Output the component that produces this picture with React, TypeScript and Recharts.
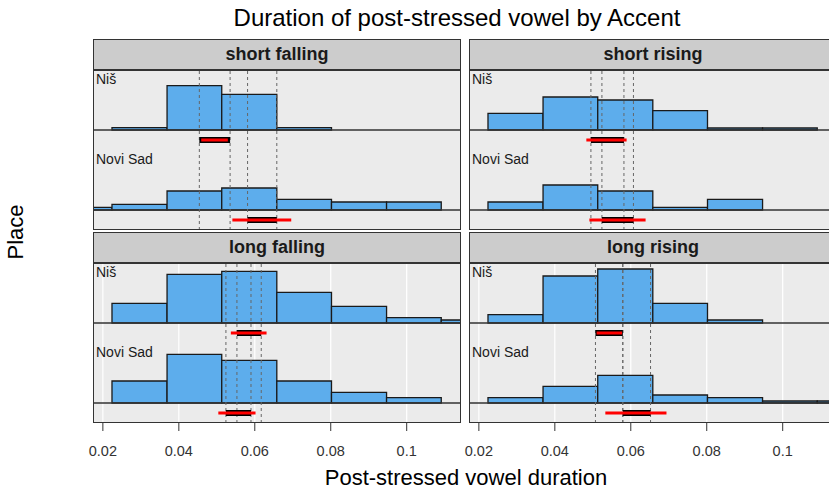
import { ComposedChart, XAxis, YAxis, CartesianGrid, ReferenceArea, ReferenceLine, Scatter } from 'recharts';

// histogram bins (post-stressed vowel duration, s)
const binEdges = [0.008, 0.0224, 0.0369, 0.0513, 0.0658, 0.0802, 0.0947, 0.1091, 0.1236];
const xTicks = [0.02, 0.04, 0.06, 0.08, 0.1];
const accents = ['short falling', 'short rising', 'long falling', 'long rising'];

// bar heights per bin, Niš / Novi Sad
const shortFallingNis = [0, 2.3, 44.3, 35.7, 2.3, 0, 0, 0];
const shortFallingNoviSad = [2.7, 5.7, 19, 22, 10.7, 8, 8, 0];
const shortRisingNis = [0, 16.7, 33, 30, 19.3, 2, 2, 0];
const shortRisingNoviSad = [0, 8, 25, 19, 2.7, 10.7, 0, 0];
const longFallingNis = [0, 19.7, 48.7, 51.7, 30.7, 16.7, 5.3, 3];
const longFallingNoviSad = [0, 22, 48.7, 42.7, 22, 10.7, 5.3, 0];
const longRisingNis = [0, 8.3, 47, 54, 19.7, 3, 0, 0];
const longRisingNoviSad = [0, 5.3, 16.7, 27.7, 8, 5.3, 2, 2];

// intervals, in accent order: inner (black) and outer (red)
const innerNis = [[0.0454, 0.0535], [0.0495, 0.0582], [0.0553, 0.0617], [0.0507, 0.0579]];
const outerNis = [[0.0459, 0.0529], [0.0483, 0.0589], [0.0537, 0.0631], [0.051, 0.0577]];
const innerNoviSad = [[0.0581, 0.0658], [0.0524, 0.0607], [0.0524, 0.059], [0.0579, 0.0652]];
const outerNoviSad = [[0.0541, 0.0696], [0.0491, 0.0639], [0.0504, 0.0602], [0.0533, 0.0694]];

const nisCounts = [shortFallingNis, shortRisingNis, longFallingNis, longRisingNis];
const noviSadCounts = [shortFallingNoviSad, shortRisingNoviSad, longFallingNoviSad, longRisingNoviSad];

const FONT = '"Liberation Sans", Arial, sans-serif';
const X_DOMAIN = [0.0174, 0.1143];
const PANEL_W = 368;
const PANEL_H = 160;
const PAD = 20;
const NIS_BASE = 100;
const NS_BASE = 20;
const NIS_CI = 90;
const NS_CI = 10;

type PanelProps = {
  idx: number;
  left: number;
  top: number;
  axis: boolean;
};

function Panel({ idx, left, top, axis }: PanelProps) {
  const rows = [
    { base: NIS_BASE, counts: nisCounts[idx], ci: NIS_CI, inner: innerNis[idx], outer: outerNis[idx] },
    { base: NS_BASE, counts: noviSadCounts[idx], ci: NS_CI, inner: innerNoviSad[idx], outer: outerNoviSad[idx] },
  ];
  const dotted = [...innerNis[idx], ...innerNoviSad[idx]];
  // bin centres, only used to give the chart something to scale
  const anchor = binEdges.slice(0, -1).map((lo, i) => ({ x: (lo + binEdges[i + 1]) / 2, y: NS_BASE }));

  return (
    <>
      <div
        style={{
          position: 'absolute',
          left,
          top: top - 31,
          width: PANEL_W,
          height: 31,
          background: '#CCCCCC',
          border: '1px solid #333',
          boxSizing: 'border-box',
          font: `bold 18px ${FONT}`,
          textAlign: 'center',
          lineHeight: '29px',
          color: '#1a1a1a',
        }}
      >
        {accents[idx]}
      </div>
      <div style={{ position: 'absolute', left, top, width: PANEL_W, height: PANEL_H, background: '#EBEBEB' }} />
      <div style={{ position: 'absolute', left: left - PAD, top }}>
        <ComposedChart
          width={PANEL_W + PAD * 2}
          height={PANEL_H + (axis ? 40 : 0)}
          margin={{ top: 0, right: PAD, bottom: 0, left: PAD }}
        >
          <CartesianGrid horizontal={false} stroke='#ffffff' strokeWidth={1.2} />
          {axis ? (
            <XAxis
              type='number'
              dataKey='x'
              domain={X_DOMAIN}
              allowDataOverflow
              ticks={xTicks}
              height={40}
              axisLine={false}
              tickSize={8}
              tickMargin={15}
              tickLine={{ stroke: '#333' }}
              tick={{ fontSize: 14.5, fill: '#333', fontFamily: FONT }}
              interval={0}
            />
          ) : (
            <XAxis type='number' dataKey='x' domain={X_DOMAIN} allowDataOverflow ticks={xTicks} height={0} tick={false} tickLine={false} axisLine={false} />
          )}
          <YAxis type='number' dataKey='y' domain={[0, PANEL_H]} hide allowDataOverflow />
          <Scatter data={anchor} dataKey='y' isAnimationActive={false} shape={() => <g />} />
          {rows.map((row, r) =>
            row.counts.map((c, i) =>
              c > 0 ? (
                <ReferenceArea
                  key={`b${r}-${i}`}
                  x1={binEdges[i]}
                  x2={binEdges[i + 1]}
                  y1={row.base}
                  y2={row.base + c}
                  fill='#5DADEC'
                  fillOpacity={1}
                  stroke='#1a1a1a'
                  strokeWidth={1.3}
                  ifOverflow='hidden'
                />
              ) : null
            )
          )}
          {rows.map((row, r) => (
            <ReferenceLine key={`base${r}`} y={row.base} stroke='#333' strokeWidth={1.4} />
          ))}
          {dotted.map((v, i) => (
            <ReferenceLine key={`d${i}`} x={v} stroke='#666' strokeWidth={1} strokeDasharray='3 3' />
          ))}
          {rows.map((row, r) => (
            <ReferenceLine
              key={`in${r}`}
              segment={[{ x: row.inner[0], y: row.ci }, { x: row.inner[1], y: row.ci }]}
              stroke='#000'
              strokeWidth={6}
            />
          ))}
          {rows.map((row, r) => (
            <ReferenceLine
              key={`out${r}`}
              segment={[{ x: row.outer[0], y: row.ci }, { x: row.outer[1], y: row.ci }]}
              stroke='#FF0000'
              strokeWidth={3}
            />
          ))}
        </ComposedChart>
      </div>
      <div style={{ position: 'absolute', left: left + 3, top: top + 1, font: `14px ${FONT}`, lineHeight: '16px', color: '#1a1a1a' }}>Niš</div>
      <div style={{ position: 'absolute', left: left + 3, top: top + 81, font: `14px ${FONT}`, lineHeight: '16px', color: '#1a1a1a' }}>Novi Sad</div>
      <div
        style={{
          position: 'absolute',
          left,
          top,
          width: PANEL_W,
          height: PANEL_H,
          border: '1px solid #333',
          boxSizing: 'border-box',
          pointerEvents: 'none',
        }}
      />
    </>
  );
}

export default function App() {
  return (
    <div style={{ position: 'fixed', left: 0, top: 0, width: 829, height: 489, overflow: 'hidden', background: '#fff', fontFamily: FONT }}>
      <div style={{ position: 'absolute', left: 457, top: 5, transform: 'translateX(-50%)', whiteSpace: 'nowrap', fontSize: 24, lineHeight: '26px', color: '#000' }}>
        Duration of post-stressed vowel by Accent
      </div>
      <Panel idx={0} left={93} top={70} axis={false} />
      <Panel idx={1} left={469} top={70} axis={false} />
      <Panel idx={2} left={93} top={263} axis />
      <Panel idx={3} left={469} top={263} axis />
      <div style={{ position: 'absolute', left: 466, top: 466, transform: 'translateX(-50%)', whiteSpace: 'nowrap', fontSize: 22, lineHeight: '24px', color: '#000' }}>
        Post-stressed vowel duration
      </div>
      <div style={{ position: 'absolute', left: 16, top: 232, transform: 'translate(-50%, -50%) rotate(-90deg)', whiteSpace: 'nowrap', fontSize: 22, lineHeight: '24px', color: '#000' }}>
        Place
      </div>
    </div>
  );
}
